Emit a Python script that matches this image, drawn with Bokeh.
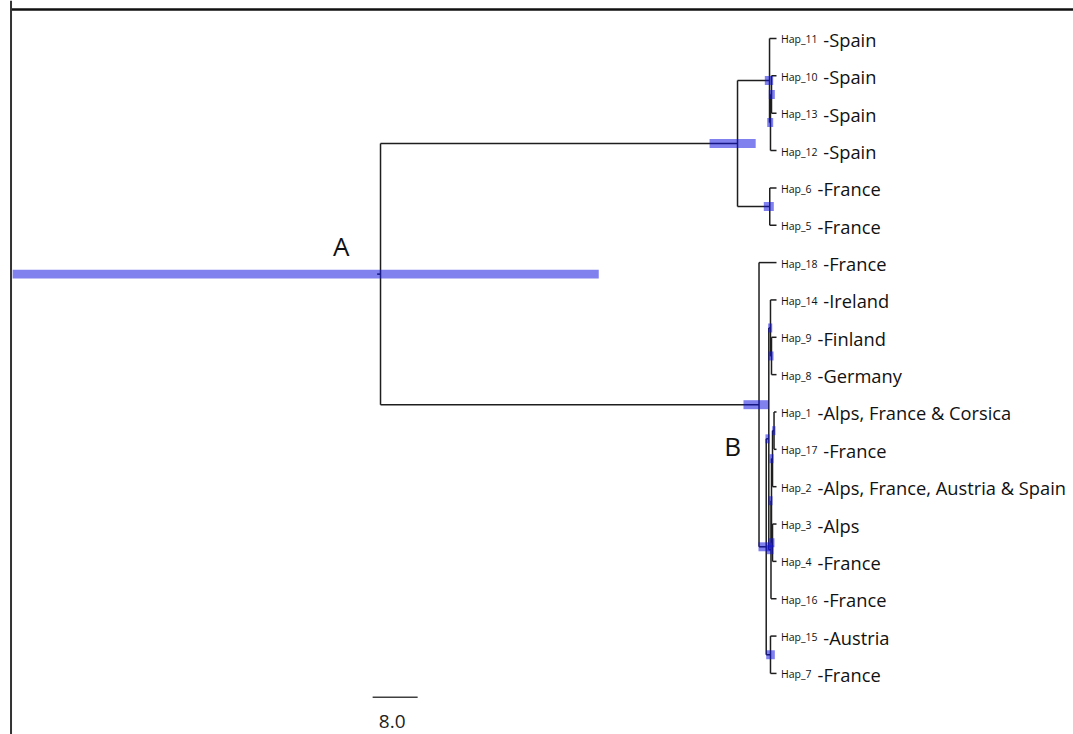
from bokeh.plotting import figure
from bokeh.models import Range1d, Span, ColumnDataSource
from bokeh.core.properties import value
from bokeh.embed import file_html
from bokeh.resources import INLINE

# ---------------- data ----------------
tip_names = ["Hap_11", "Hap_10", "Hap_13", "Hap_12", "Hap_6", "Hap_5", "Hap_18",
             "Hap_14", "Hap_9", "Hap_8", "Hap_1", "Hap_17", "Hap_2", "Hap_3",
             "Hap_4", "Hap_16", "Hap_15", "Hap_7"]
tip_countries = ["Spain", "Spain", "Spain", "Spain", "France", "France", "France",
                 "Ireland", "Finland", "Germany", "Alps, France & Corsica", "France",
                 "Alps, France, Austria & Spain", "Alps", "France", "France",
                 "Austria", "France"]

node_names = ["root", "A", "S1", "S2", "S3", "F", "B", "C", "X", "P", "PP",
              "Q", "Q1", "Q2", "Q4", "Q3", "T"]
node_children = [("A", "B"), ("S1", "F"), ("Hap_11", "S2"), ("S3", "Hap_12"),
                 ("Hap_10", "Hap_13"), ("Hap_6", "Hap_5"), ("Hap_18", "C"),
                 ("X", "T"), ("P", "Q"), ("Hap_14", "PP"), ("Hap_9", "Hap_8"),
                 ("Q1", "Hap_16"), ("Q2", "Q3"), ("Q4", "Hap_2"), ("Hap_1", "Hap_17"),
                 ("Hap_3", "Hap_4"), ("Hap_15", "Hap_7")]
node_heights = [70.4, 6.93, 1.24, 1.07, 0.89, 1.2, 3.11, 1.83, 1.37, 1.07, 0.89,
                0.98, 0.89, 0.71, 0.44, 0.71, 1.07]
hpd_upper = [135.8, 11.9, 2.08, 1.65, 1.37, 2.26, 5.87, 3.2, 1.96, 1.48, 1.42,
             1.78, 1.42, 1.24, 0.76, 1.42, 1.83]
hpd_lower = [31.6, 3.7, 0.59, 0.59, 0.3, 0.48, 1.42, 1.07, 1.24, 0.76, 0.53,
             0.53, 0.71, 0.53, 0.18, 0.36, 0.3]
root_stub = 0.6
clade_labels = ["A", "B"]
scale_length = 8.0
scale_label = "8.0"

# ---------------- layout computation ----------------
height = {n: 0.0 for n in tip_names}
ypos = {n: float(i) for i, n in enumerate(tip_names)}
children = {}
for n, ch, h in zip(node_names, node_children, node_heights):
    height[n] = h
    children[n] = ch


def place(n):
    if n in ypos:
        return ypos[n]
    ys = [place(c) for c in children[n]]
    ypos[n] = (min(ys) + max(ys)) / 2.0
    return ypos[n]


place("root")

x0, y0, x1, y1 = [], [], [], []
for n in node_names:
    ch = children[n]
    cy = [ypos[c] for c in ch]
    x0.append(height[n]); y0.append(min(cy)); x1.append(height[n]); y1.append(max(cy))
    for c in ch:
        x0.append(height[n]); y0.append(ypos[c]); x1.append(height[c]); y1.append(ypos[c])
# root stub
x0.append(height["root"] + root_stub); y0.append(ypos["root"])
x1.append(height["root"]); y1.append(ypos["root"])

# ---------------- figure ----------------
W, H = 1073, 734
x_lo, x_hi = 137.96, -52.8
y_lo, y_hi = 18.635, -1.017
p = figure(width=W, height=H, output_backend="svg", toolbar_location=None,
           x_range=Range1d(x_lo, x_hi), y_range=Range1d(y_lo, y_hi),
           min_border=0, background_fill_color="white", border_fill_color="white")
p.outline_line_color = None
p.axis.visible = False
p.grid.visible = False

p.segment(x0=x0, y0=y0, x1=x1, y1=y1, line_color="#1e1e1e", line_width=1.5)

bar_src = ColumnDataSource(dict(y=[ypos[n] for n in node_names],
                                left=hpd_upper, right=hpd_lower))
p.hbar(y="y", left="left", right="right", height=0.24, source=bar_src,
       fill_color="#1010e0", fill_alpha=0.53, line_color=None)

font = value("Open Sans")
tip_src = ColumnDataSource(dict(
    x=[0.0] * len(tip_names),
    y=[ypos[n] for n in tip_names],
    name=tip_names,
    country=["-" + c for c in tip_countries],
    coff=[12 + 5.8 * len(n) for n in tip_names],
))
p.text(x="x", y="y", text="name", source=tip_src, x_offset=4.5, y_offset=1,
       text_baseline="middle", text_font_size="10.5px", text_font=font, text_color="#111111")
p.text(x="x", y="y", text="country", source=tip_src, x_offset="coff", y_offset=1,
       text_baseline="middle", text_font_size="18.3px", text_font=font, text_color="#111111")

# clade labels
p.text(x=[height["root"], height["B"]], y=[ypos["root"], ypos["B"]], text=clade_labels,
       x_offset=[-31, -18], y_offset=[-28, 41],
       text_align="right", text_baseline="alphabetic", text_font_size="26px",
       text_font=font, text_color="#111111")

# scale bar
sb_start = 71.8
sb_y = 17.64
p.segment(x0=[sb_start], y0=[sb_y], x1=[sb_start - scale_length], y1=[sb_y],
          line_color="#404040", line_width=1.5)
p.text(x=[sb_start - scale_length / 2], y=[sb_y], text=[scale_label], x_offset=-3, y_offset=24,
       text_align="center", text_baseline="alphabetic", text_font_size="19px",
       text_font=font, text_color="#222222")

# frame lines (top and left), starting at the left border
frame_left = 136.09
frame_top = -0.776
p.segment(x0=[frame_left], y0=[frame_top], x1=[x_hi], y1=[frame_top],
          line_color="#111111", line_width=2.5)
p.add_layout(Span(location=frame_left, dimension="height", line_color="#333333", line_width=2))

open("out.html", "w").write(file_html(p, INLINE))
